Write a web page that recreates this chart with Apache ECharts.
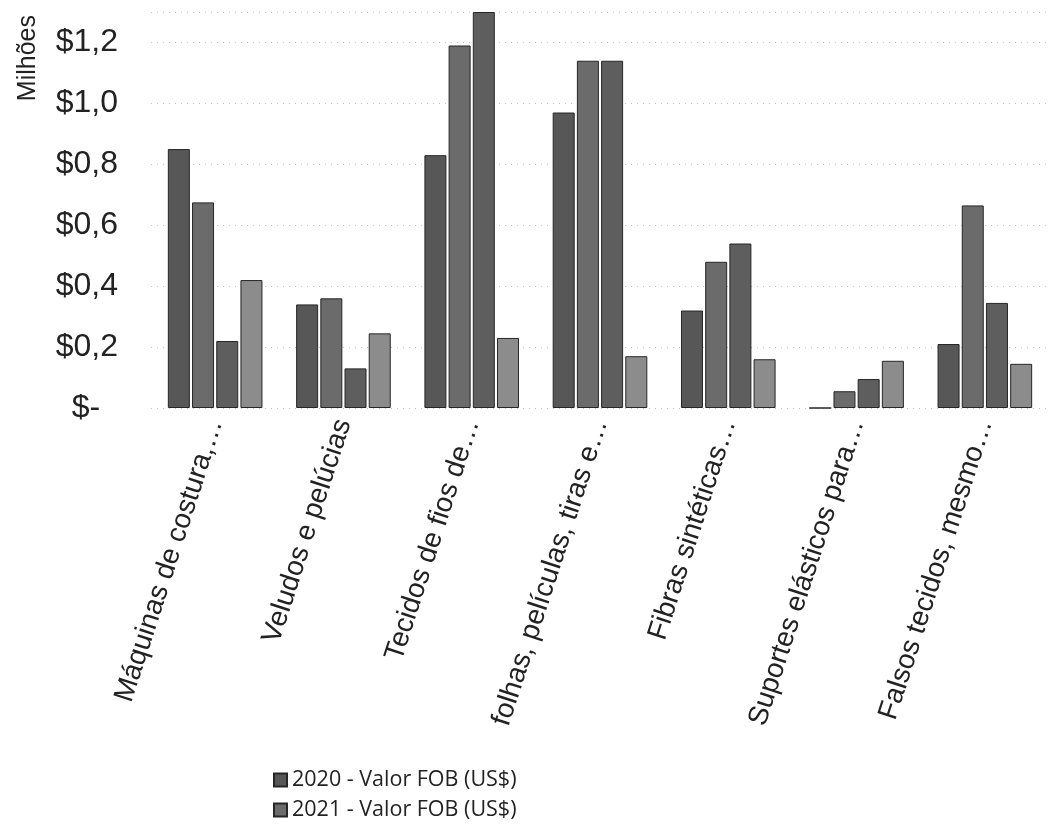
<!DOCTYPE html>
<html>
<head>
<meta charset="utf-8">
<script src="https://cdn.jsdelivr.net/npm/echarts@6/dist/echarts.min.js"></script>
<style>
  html, body { margin: 0; padding: 0; background: #fff; }
  #chart { width: 1054px; height: 834px; }
</style>
</head>
<body>
<div id="chart"></div>
<script>
// Product groups (labels are shortened with an ellipsis)
const categories = [
  'Máquinas de costura,…',
  'Veludos e pelúcias',
  'Tecidos de fios de…',
  'folhas, películas, tiras e…',
  'Fibras sintéticas…',
  'Suportes elásticos para…',
  'Falsos tecidos, mesmo…'
];

// FOB value per year, in millions of US$
const fob2020 = [0.85, 0.34, 0.83, 0.97, 0.32, 0, 0.21];
const fob2021 = [0.675, 0.36, 1.19, 1.14, 0.48, 0.055, 0.665];
const fob2022 = [0.22, 0.13, 1.30, 1.14, 0.54, 0.095, 0.345];
const fob2023 = [0.42, 0.245, 0.23, 0.17, 0.16, 0.155, 0.145];

const seriesNames = [
  '2020 - Valor FOB (US$)',
  '2021 - Valor FOB (US$)',
  '2022 - Valor FOB (US$)',
  '2023 - Valor FOB (US$)'
];
const seriesData = [fob2020, fob2021, fob2022, fob2023];
const seriesColors = ['#575757', '#6b6b6b', '#5e5e5e', '#8c8c8c'];

// Value axis tick labels
const yTickLabels = { '0': '$-  ', '0.2': '$0,2', '0.4': '$0,4', '0.6': '$0,6', '0.8': '$0,8', '1': '$1,0', '1.2': '$1,2' };

const chart = echarts.init(document.getElementById('chart'));

chart.setOption({
  backgroundColor: '#ffffff',
  animation: false,
  grid: { left: 151, right: 5, top: 12, bottom: 426, containLabel: false },
  legend: {
    data: seriesNames.slice(0, 2),
    orient: 'vertical',
    left: 268,
    top: 762,
    itemWidth: 13,
    itemHeight: 13,
    itemGap: 4,
    icon: 'rect',
    textStyle: { fontFamily: 'Open Sans', fontSize: 21.5, color: '#222', lineHeight: 26 }
  },
  xAxis: {
    type: 'category',
    data: categories,
    axisLine: { show: false },
    axisTick: { show: false },
    axisLabel: {
      interval: 0,
      rotate: 72,
      margin: 12,
      fontFamily: 'Liberation Sans',
      fontSize: 28,
      color: '#222'
    }
  },
  yAxis: {
    type: 'value',
    min: 0,
    max: 1.3,
    interval: 0.2,
    name: 'Milhões',
    nameLocation: 'end',
    nameRotate: 90,
    nameGap: -3,
    nameTextStyle: {
      fontFamily: 'Liberation Sans',
      fontSize: 25,
      color: '#222',
      align: 'right',
      verticalAlign: 'bottom',
      padding: [0, 0, 110, 0]
    },
    axisLine: { show: false },
    axisTick: { show: false },
    axisLabel: {
      margin: 33,
      showMaxLabel: false,
      fontFamily: 'Liberation Sans',
      fontSize: 32,
      color: '#222',
      formatter: v => {
        const key = String(Math.round(v * 10) / 10);
        return yTickLabels[key] !== undefined ? yTickLabels[key] : '';
      }
    },
    splitLine: { lineStyle: { color: '#c4c4c4', type: [1, 5], width: 1 } }
  },
  series: seriesNames.map((name, i) => ({
    name: name,
    type: 'bar',
    data: seriesData[i],
    barWidth: 22,
    barGap: '10%',
    itemStyle: { color: seriesColors[i], borderColor: '#262626', borderWidth: 1 }
  }))
});
</script>
</body>
</html>
